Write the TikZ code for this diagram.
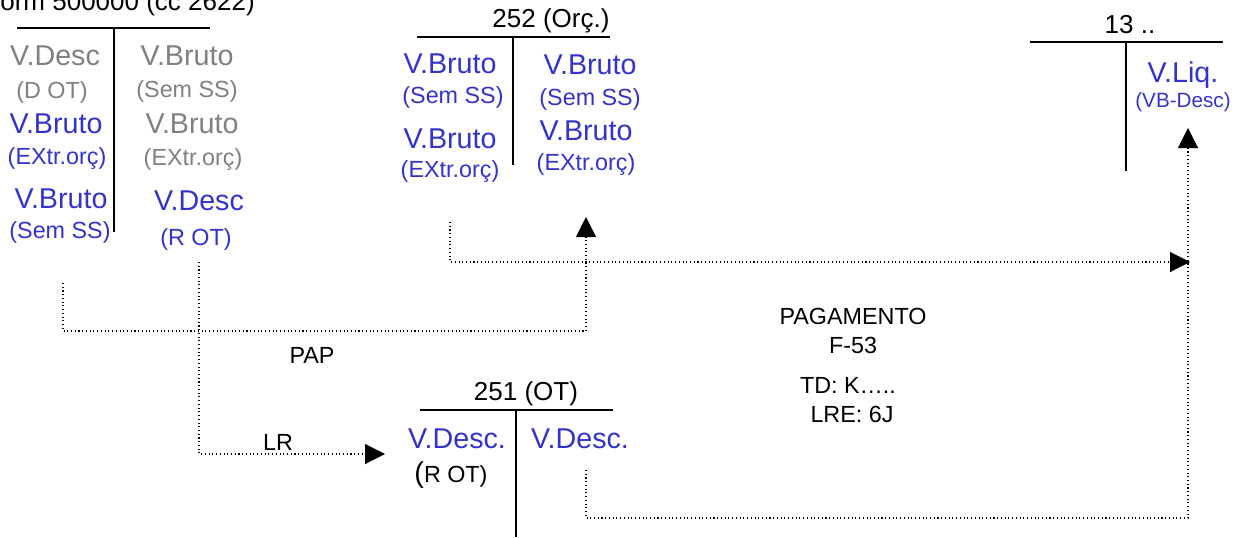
\documentclass[tikz,border=0pt]{standalone}
\usepackage{fontspec}
\setmainfont{Liberation Sans}
\usetikzlibrary{arrows.meta}
\definecolor{txtblue}{RGB}{51,51,204}
\definecolor{txtgray}{RGB}{128,128,128}

\begin{document}
\begin{tikzpicture}[x=0.75pt,y=-0.75pt]
		\tikzstyle{big}=[font=\fontsize{21.5}{24}\selectfont, inner sep=0, anchor=base]
		\tikzstyle{small}=[font=\fontsize{17.5}{20}\selectfont, inner sep=0, anchor=base]
		\tikzstyle{tiny}=[font=\fontsize{15.5}{18}\selectfont, inner sep=0, anchor=base]
		\tikzstyle{title}=[font=\fontsize{19.5}{22}\selectfont, inner sep=0, anchor=base]
		\tikzstyle{tline}=[line width=1.2pt]
		\tikzstyle{flow}=[dotted, line width=0.8pt]
		\tikzstyle{connect}=[flow, -{Triangle[length=15pt, width=15pt]}]
		\useasboundingbox (0,0) rectangle (1245,537);
		
		% conta 500000
		\node[title, anchor=base east] (t500) at (255,10) {Form 500000 (cc 2622)};
		\draw[tline] (17,28) -- (210,28);
		\draw[tline] (114,28) -- (114,232);
		\node[big, text=txtgray] (descD) at (55,65) {V.Desc};
		\node[small, text=txtgray] (dot) at (52,98) {(D OT)};
		\node[big, text=txtblue] (brutoA) at (56,133) {V.Bruto};
		\node[small, text=txtblue] (extrA) at (57,164) {(EXtr.orç)};
		\node[big, text=txtblue] (brutoB) at (61,208) {V.Bruto};
		\node[small, text=txtblue] (semB) at (60,238) {(Sem SS)};
		
		\node[big, text=txtgray] (brutoC) at (187,65) {V.Bruto};
		\node[small, text=txtgray] (semC) at (187,97) {(Sem SS)};
		\node[big, text=txtgray] (brutoD) at (192,133) {V.Bruto};
		\node[small, text=txtgray] (extrD) at (193,165) {(EXtr.orç)};
		\node[big, text=txtblue] (descR) at (199,210) {V.Desc};
		\node[small, text=txtblue] (rot) at (196,245) {(R OT)};
		
		% conta 252
		\node[title] (t252) at (551,27) {252 (Orç.)};
		\draw[tline] (417,37) -- (610,37);
		\draw[tline] (513,37) -- (513,165);
		\node[big, text=txtblue] (orcA) at (450,73) {V.Bruto};
		\node[small, text=txtblue] (orcSemA) at (453,103) {(Sem SS)};
		\node[big, text=txtblue] (orcB) at (450,148) {V.Bruto};
		\node[small, text=txtblue] (orcExtrB) at (450,177) {(EXtr.orç)};
		\node[big, text=txtblue] (orcC) at (590,74) {V.Bruto};
		\node[small, text=txtblue] (orcSemC) at (590,105) {(Sem SS)};
		\node[big, text=txtblue] (orcD) at (586,140) {V.Bruto};
		\node[small, text=txtblue] (orcExtrD) at (586,170) {(EXtr.orç)};
		
		% conta 13
		\node[title] (t13) at (1130,33) {13 ..};
		\draw[tline] (1030,42) -- (1223,42);
		\draw[tline] (1126,42) -- (1126,171);
		\node[big, text=txtblue] (liq) at (1183,82) {V.Liq.};
		\node[tiny, text=txtblue] (vbdesc) at (1183,107) {(VB-Desc)};
		
		% conta 251
		\node[title] (t251) at (526,400) {251 (OT)};
		\draw[tline] (420,410) -- (613,410);
		\draw[tline] (516,410) -- (516,537);
		\node[big, text=txtblue] (otA) at (457,448) {V.Desc.};
		\node[small] (otRot) at (451,482) {{\fontsize{21.5}{24}\selectfont(}R OT)};
		\node[big, text=txtblue] (otB) at (580,448) {V.Desc.};
		
		% textos
		\node[small] (pap) at (312,363) {PAP};
		\node[small] (lr) at (278,450) {LR};
		\node[small] (pag) at (853,324) {PAGAMENTO};
		\node[small] (f53) at (853,353) {F-53};
		\node[small] (td) at (848,393) {TD: K\dots..};
		\node[small] (lre) at (852,422) {LRE: 6J};
		
		% ligacoes
		\coordinate (papStart) at (63,283);
		\coordinate (papEnd) at (586,217);
		\coordinate (lrStart) at (199,262);
		\coordinate (lrEnd) at (385,454);
		\coordinate (orcStart) at (450,222);
		\coordinate (liqIn) at (1190,262);
		\coordinate (pagStart) at (586,470);
		\coordinate (pagEnd) at (1188,128);
		
		\draw[connect] (papStart) |- (586,331) -- (papEnd);
		\draw[connect] (lrStart) |- (lrEnd);
		\draw[connect] (orcStart) |- (liqIn);
		\draw[connect] (pagStart) |- (1188,518) -- (pagEnd);
\end{tikzpicture}
\end{document}
